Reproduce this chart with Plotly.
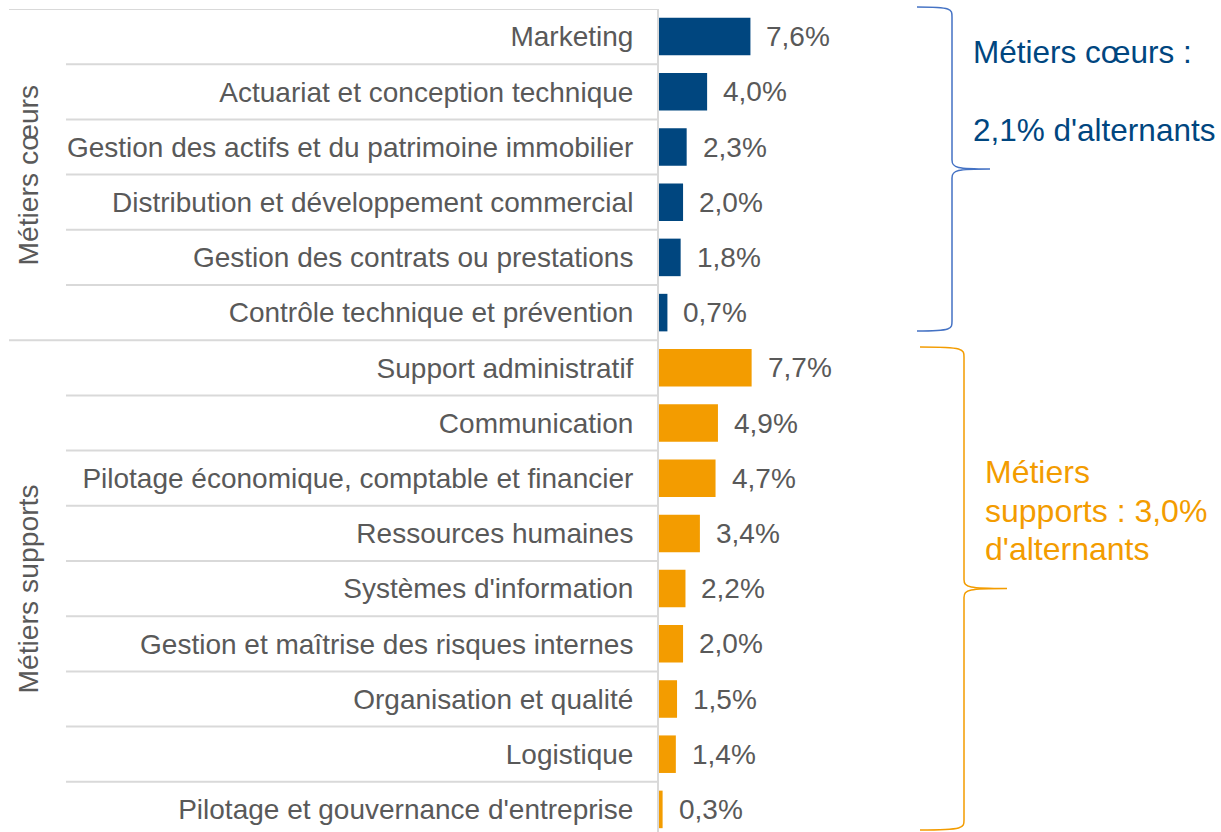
import plotly.graph_objects as go

categories = [
    "Marketing",
    "Actuariat et conception technique",
    "Gestion des actifs et du patrimoine immobilier",
    "Distribution et développement commercial",
    "Gestion des contrats ou prestations",
    "Contrôle technique et prévention",
    "Support administratif",
    "Communication",
    "Pilotage économique, comptable et financier",
    "Ressources humaines",
    "Systèmes d'information",
    "Gestion et maîtrise des risques internes",
    "Organisation et qualité",
    "Logistique",
    "Pilotage et gouvernance d'entreprise",
]
values = [7.6, 4.0, 2.3, 2.0, 1.8, 0.7, 7.7, 4.9, 4.7, 3.4, 2.2, 2.0, 1.5, 1.4, 0.3]
groups = ["coeur"] * 6 + ["support"] * 9
group_titles = {"coeur": "Métiers cœurs", "support": "Métiers supports"}

NAVY = "#00467F"
ORANGE = "#F39C00"
GRAY = "#595959"
GRID = "#D9D9D9"
FONT = "Liberation Sans, Arial, sans-serif"

W, H = 1221, 832
L, T = 659, 9
PW, PH = W - L, H - T
PX_PER_PCT = 12.03
ROW = 55.2
xmax = PW / PX_PER_PCT
ymax = PH / ROW - 0.5

def fmt(v):
    return f"{v:.1f}".replace(".", ",") + "%"

def xp(px):  # screen pixel -> paper x
    return (px - L) / PW

def yp(py):  # screen pixel -> paper y
    return 1 - (py - T) / PH

ys = list(range(len(categories)))
colors = [NAVY if g == "coeur" else ORANGE for g in groups]

fig = go.Figure()
fig.add_trace(go.Bar(
    x=values, y=ys, orientation="h", marker=dict(color=colors, line=dict(width=0)),
    width=0.68, hoverinfo="skip",
))

annotations = []
for v, y in zip(values, ys):
    annotations.append(dict(x=v, y=y, xref="x", yref="y", text=fmt(v), showarrow=False,
                            xanchor="left", yanchor="middle", xshift=14,
                            font=dict(family=FONT, size=28, color=GRAY)))

shapes = []
for k in range(len(categories)):
    new_group = k == 0 or groups[k] != groups[k - 1]
    x0 = xp(9) if new_group else xp(66)
    shapes.append(dict(type="line", xref="paper", yref="y", x0=x0, x1=xp(658),
                       y0=k - 0.5, y1=k - 0.5, line=dict(color=GRID, width=2), layer="below"))

for g in ["coeur", "support"]:
    idx = [i for i, gg in enumerate(groups) if gg == g]
    annotations.append(dict(x=xp(28), y=(idx[0] + idx[-1]) / 2, xref="paper", yref="y",
                            text=group_titles[g], textangle=-90, showarrow=False,
                            xanchor="center", yanchor="middle",
                            font=dict(family=FONT, size=28.3, color=GRAY)))

def brace(top, bottom, x_left, x_line, x_tip, color):
    mid = (top + bottom) / 2
    pts = [
        f"M {xp(x_left)},{yp(top)}",
        f"C {xp(x_line)},{yp(top)} {xp(x_line)},{yp(top+2)} {xp(x_line)},{yp(top+10)}",
        f"L {xp(x_line)},{yp(mid-9)}",
        f"C {xp(x_line)},{yp(mid-1)} {xp(x_line+5)},{yp(mid)} {xp(x_tip)},{yp(mid)}",
        f"C {xp(x_line+5)},{yp(mid)} {xp(x_line)},{yp(mid+1)} {xp(x_line)},{yp(mid+9)}",
        f"L {xp(x_line)},{yp(bottom-10)}",
        f"C {xp(x_line)},{yp(bottom-2)} {xp(x_line)},{yp(bottom)} {xp(x_left)},{yp(bottom)}",
    ]
    return dict(type="path", xref="paper", yref="paper", path=" ".join(pts),
                line=dict(color=color, width=1.5))

shapes.append(brace(7, 331, 917, 952, 990, "#4472C4"))
shapes.append(brace(347, 830, 920, 964, 1007, ORANGE))

side_texts = [
    ("Métiers cœurs :", 971, 52, NAVY, 31.5),
    ("2,1% d'alternants", 971, 130, NAVY, 31.5),
    ("Métiers", 983, 472, ORANGE, 32),
    ("supports : 3,0%", 983, 511, ORANGE, 32),
    ("d'alternants", 983, 549, ORANGE, 32),
]
for txt, x, y, c, s in side_texts:
    annotations.append(dict(x=xp(x), y=yp(y), xref="paper", yref="paper", text=txt,
                            showarrow=False, xanchor="left", yanchor="middle",
                            font=dict(family=FONT, size=s, color=c)))

fig.update_layout(
    width=W, height=H,
    margin=dict(l=L, r=0, t=T, b=0, pad=0),
    paper_bgcolor="white", plot_bgcolor="white",
    showlegend=False,
    hovermode=False,
    xaxis=dict(range=[0, xmax], showgrid=False, zeroline=False, showticklabels=False,
               showline=False, fixedrange=True),
    yaxis=dict(range=[ymax, -0.5], tickvals=ys, ticktext=categories, showgrid=False,
               zeroline=False, showline=True, linecolor=GRID, linewidth=2,
               ticks="", ticklabelstandoff=18,
               tickfont=dict(family=FONT, size=28, color=GRAY), fixedrange=True),
    shapes=shapes,
    annotations=annotations,
)

fig.write_html("out.html", config={"displayModeBar": False, "staticPlot": True},
               post_script="document.body.style.margin='0';document.body.style.overflow='hidden';")
